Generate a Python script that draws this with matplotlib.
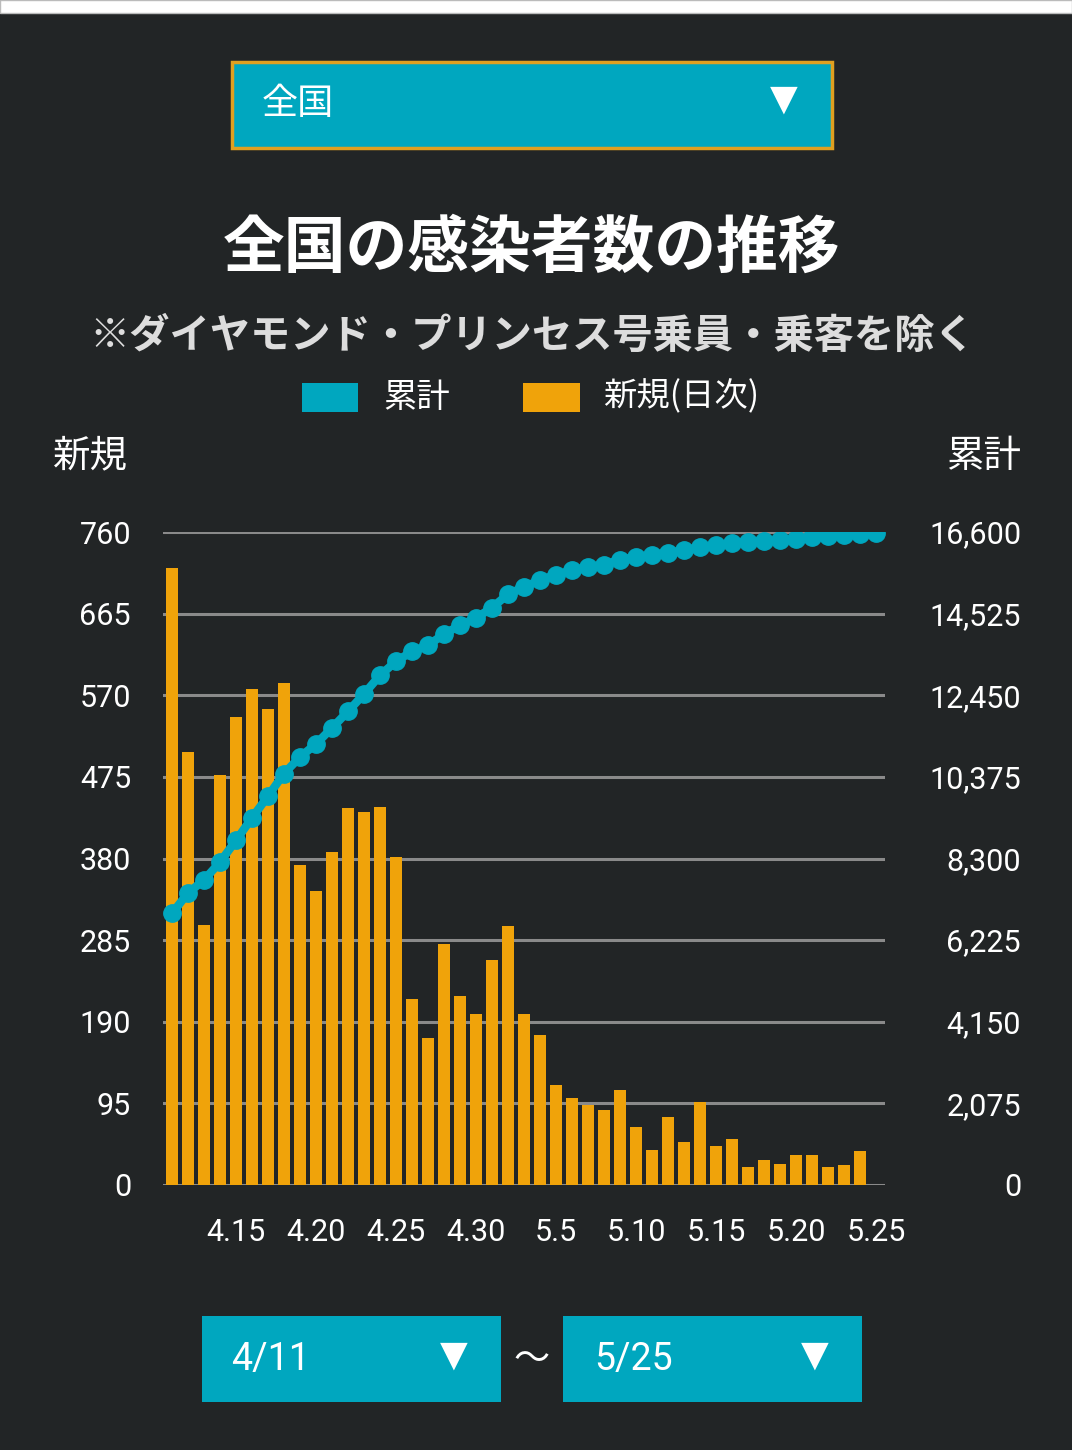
import matplotlib
matplotlib.use("Agg")
import matplotlib.pyplot as plt
from matplotlib.patches import Rectangle
from matplotlib.ticker import FuncFormatter
import pandas as pd

plt.rcParams['font.family'] = ['Noto Sans CJK JP', 'DejaVu Sans']

BG = '#222526'
TEAL = '#00A7BF'
ORANGE = '#F0A30A'
GRID = '#8a8a8a'

# data
days = pd.date_range('2020-04-11', '2020-05-25')
daily = [718, 504, 303, 477, 545, 577, 554, 584, 373, 342, 388, 439, 434, 440, 382,
         216, 171, 280, 220, 199, 262, 301, 199, 174, 116, 101, 93, 87, 111, 68,
         41, 79, 50, 97, 45, 53, 21, 29, 25, 35, 35, 21, 23, 39, 0]
total = [6903, 7422, 7753, 8206, 8758, 9333, 9885, 10459, 10879, 11211, 11619, 12039,
         12481, 12956, 13309, 13563, 13718, 14005, 14226, 14414, 14677, 15016, 15203,
         15372, 15516, 15626, 15711, 15770, 15897, 15965, 16024, 16075, 16134, 16219,
         16261, 16320, 16354, 16371, 16388, 16431, 16473, 16498, 16515, 16558, 16583]
left_ticks = [0, 95, 190, 285, 380, 475, 570, 665, 760]
right_ticks = [0, 2075, 4150, 6225, 8300, 10375, 12450, 14525, 16600]

W, H = 1072, 1450
NUMFONT = ['Roboto', 'DejaVu Sans']
fig = plt.figure(figsize=(W / 100, H / 100), dpi=100, facecolor=BG)

# top white strip
fig.patches.append(Rectangle((0, 1 - 13 / H), 1, 13 / H, transform=fig.transFigure,
                             facecolor='white', edgecolor='#bbbbbb', lw=1))


def box(x0, y0, x1, y1, edge=None):
    fig.patches.append(Rectangle((x0 / W, 1 - y1 / H), (x1 - x0) / W, (y1 - y0) / H,
                                 transform=fig.transFigure, facecolor=TEAL,
                                 edgecolor=edge if edge else TEAL, lw=2.5 if edge else 0))


def ftext(x, y, s, **kw):
    fig.text(x / W, 1 - y / H, s, **kw)


# region dropdown
box(232, 62, 832, 148, edge='#E0A020')
ftext(262, 104, '全国', color='white', fontsize=26, va='center', ha='left')
ftext(784, 100, '▼', color='white', fontsize=26, va='center', ha='center',
      family=['DejaVu Sans'])

# titles
ftext(532, 248, '全国の感染者数の推移', color='white', fontsize=44.5, fontweight='bold',
      ha='center', va='center')
ftext(532, 336, '※ダイヤモンド・プリンセス号乗員・乗客を除く', color='#dddddd', fontsize=29,
      fontweight='bold', ha='center', va='center')

# legend
fig.patches.append(Rectangle((302 / W, 1 - 412 / H), 56 / W, 29 / H,
                             transform=fig.transFigure, facecolor=TEAL, lw=0))
ftext(383, 397, '累計', color='white', fontsize=24, va='center', ha='left')
fig.patches.append(Rectangle((523 / W, 1 - 412 / H), 57 / W, 29 / H,
                             transform=fig.transFigure, facecolor=ORANGE, lw=0))
ftext(603, 397, '新規(日次)', color='white', fontsize=24, va='center', ha='left')

ftext(90, 456, '新規', color='white', fontsize=27, va='center', ha='center')
ftext(984, 456, '累計', color='white', fontsize=27, va='center', ha='center')

# chart
ax = fig.add_axes([163 / W, 1 - 1185 / H, (885 - 163) / W, (1185 - 532) / H])
ax.set_facecolor(BG)
x = list(range(len(days)))
ax.bar(x, daily, width=0.75, color=ORANGE, zorder=2)
ax.set_xlim(-0.56, len(days) - 1 + 0.56)
ax.set_ylim(0, 760)
ax.set_yticks(left_ticks)
ax.grid(axis='y', color=GRID, lw=2.2, zorder=0)
ax.set_axisbelow(True)
for s in ax.spines.values():
    s.set_visible(False)
ax.tick_params(axis='y', length=0, pad=23, labelsize=22, labelcolor='white')
tick_idx = [i for i, d in enumerate(days) if d.day % 5 == 0]
ax.set_xticks(tick_idx)
ax.set_xticklabels([f'{days[i].month}.{days[i].day}' for i in tick_idx])
ax.tick_params(axis='x', length=0, pad=24, labelsize=22, labelcolor='white')
for lab in ax.get_xticklabels() + ax.get_yticklabels():
    lab.set_family(NUMFONT)

ax2 = ax.twinx()
ax2.plot(x, total, color=TEAL, lw=6, marker='o', markersize=12.5, zorder=3)
ax2.set_ylim(0, 16600)
ax2.set_yticks(right_ticks)
ax2.yaxis.set_major_formatter(FuncFormatter(lambda v, p: f'{int(v):,}'))
for s in ax2.spines.values():
    s.set_visible(False)
ax2.tick_params(axis='y', length=0, pad=98, labelsize=22, labelcolor='white')
for lab in ax2.get_yticklabels():
    lab.set_horizontalalignment('right')
    lab.set_family(NUMFONT)

# date range dropdowns
box(202, 1316, 501, 1402)
box(563, 1316, 862, 1402)
ftext(231, 1360, '4/11', color='white', fontsize=27, va='center', ha='left',
      family=NUMFONT)
ftext(594, 1360, '5/25', color='white', fontsize=27, va='center', ha='left',
      family=NUMFONT)
ftext(454, 1356, '▼', color='white', fontsize=26, va='center', ha='center',
      family=['DejaVu Sans'])
ftext(815, 1356, '▼', color='white', fontsize=26, va='center', ha='center',
      family=['DejaVu Sans'])
ftext(532, 1360, '〜', color='white', fontsize=26, va='center', ha='center')

fig.savefig('out.png', dpi=100, facecolor=BG)
